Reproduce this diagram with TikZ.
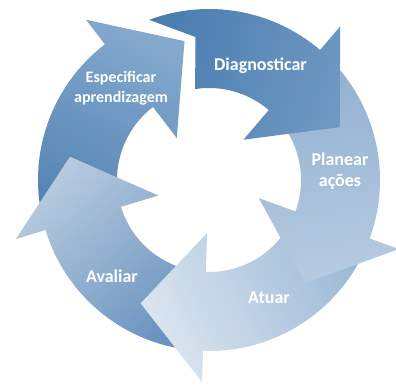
\documentclass[tikz,border=0pt]{standalone}
\usepackage{fontspec}
\setmainfont{Carlito}

% Curved cycle arrow: #1 fill style, #2 tail angle, #3 barb angle, #4 tip angle
\newcommand\cyclearrow[4]{%
  \shade[#1] (#2:\Ro) arc[start angle=#2, end angle=#3, radius=\Ro]
    -- (#3:\Rb) -- (#4:\Rt) -- (#3:\Rn) -- (#3:\Ri)
    arc[start angle=#3, end angle=#2, radius=\Ri] -- cycle;}

\definecolor{especA}{HTML}{5584B5}
\definecolor{especB}{HTML}{84A9CD}
\definecolor{diagA}{HTML}{4A7DB0}
\definecolor{diagB}{HTML}{6E97C2}
\definecolor{planA}{HTML}{90AFD1}
\definecolor{planB}{HTML}{B7CBE0}
\definecolor{atuaA}{HTML}{9DB9D6}
\definecolor{atuaB}{HTML}{DAE5F0}
\definecolor{avalA}{HTML}{6B93C0}
\definecolor{avalB}{HTML}{B7CBDF}

\begin{document}
\begin{tikzpicture}[x=1pt, y=1pt,
  grad/.style n args={3}{left color=#1, right color=#2, shading angle=#3},
  steptext/.style={text=white, inner sep=0pt, align=center,
    font=\bfseries\fontsize{18}{21.6}\selectfont},
  smalltext/.style={steptext, font=\bfseries\fontsize{16}{20}\selectfont},
]
\useasboundingbox (-209,-207) rectangle (187,180);
\def\Ro{171}\def\Ri{92}\def\Rb{202}\def\Rn{53}\def\Rt{141}

% arrows, each tail tucked under the preceding head
\cyclearrow{grad={especA}{especB}{153}}{196}{127.5}{100}
\cyclearrow{grad={avalA}{avalB}{223}}{267}{197}{170.5}
\cyclearrow{grad={atuaA}{atuaB}{296}}{-21}{-92}{-119}
\cyclearrow{grad={planA}{planB}{7}}{48.5}{-20}{-47}
% first step: notched tail beside the last head
\shade[grad={diagA}{diagB}{72.5}]
  (110.5:\Ro) arc[start angle=110.5, end angle=49.5, radius=\Ro]
  -- (49.5:\Rb) -- (22:\Rt) -- (49.5:\Rn) -- (49.5:\Ri)
  arc[start angle=49.5, end angle=98.7, radius=\Ri] -- (-13.5,143) -- cycle;

% step labels
\node[steptext, anchor=base] (diag) at (51.5,109) {Diagnosticar};
\node[steptext] (plan) at (131,8.6) {Planear\\ações};
\node[steptext, anchor=base] (atua) at (60,-124) {Atuar};
\node[steptext, anchor=base] (aval) at (-97,-102.7) {Avaliar};
\node[smalltext] (espec) at (-88,91.9) {Especificar\\aprendizagem};
\end{tikzpicture}
\end{document}
